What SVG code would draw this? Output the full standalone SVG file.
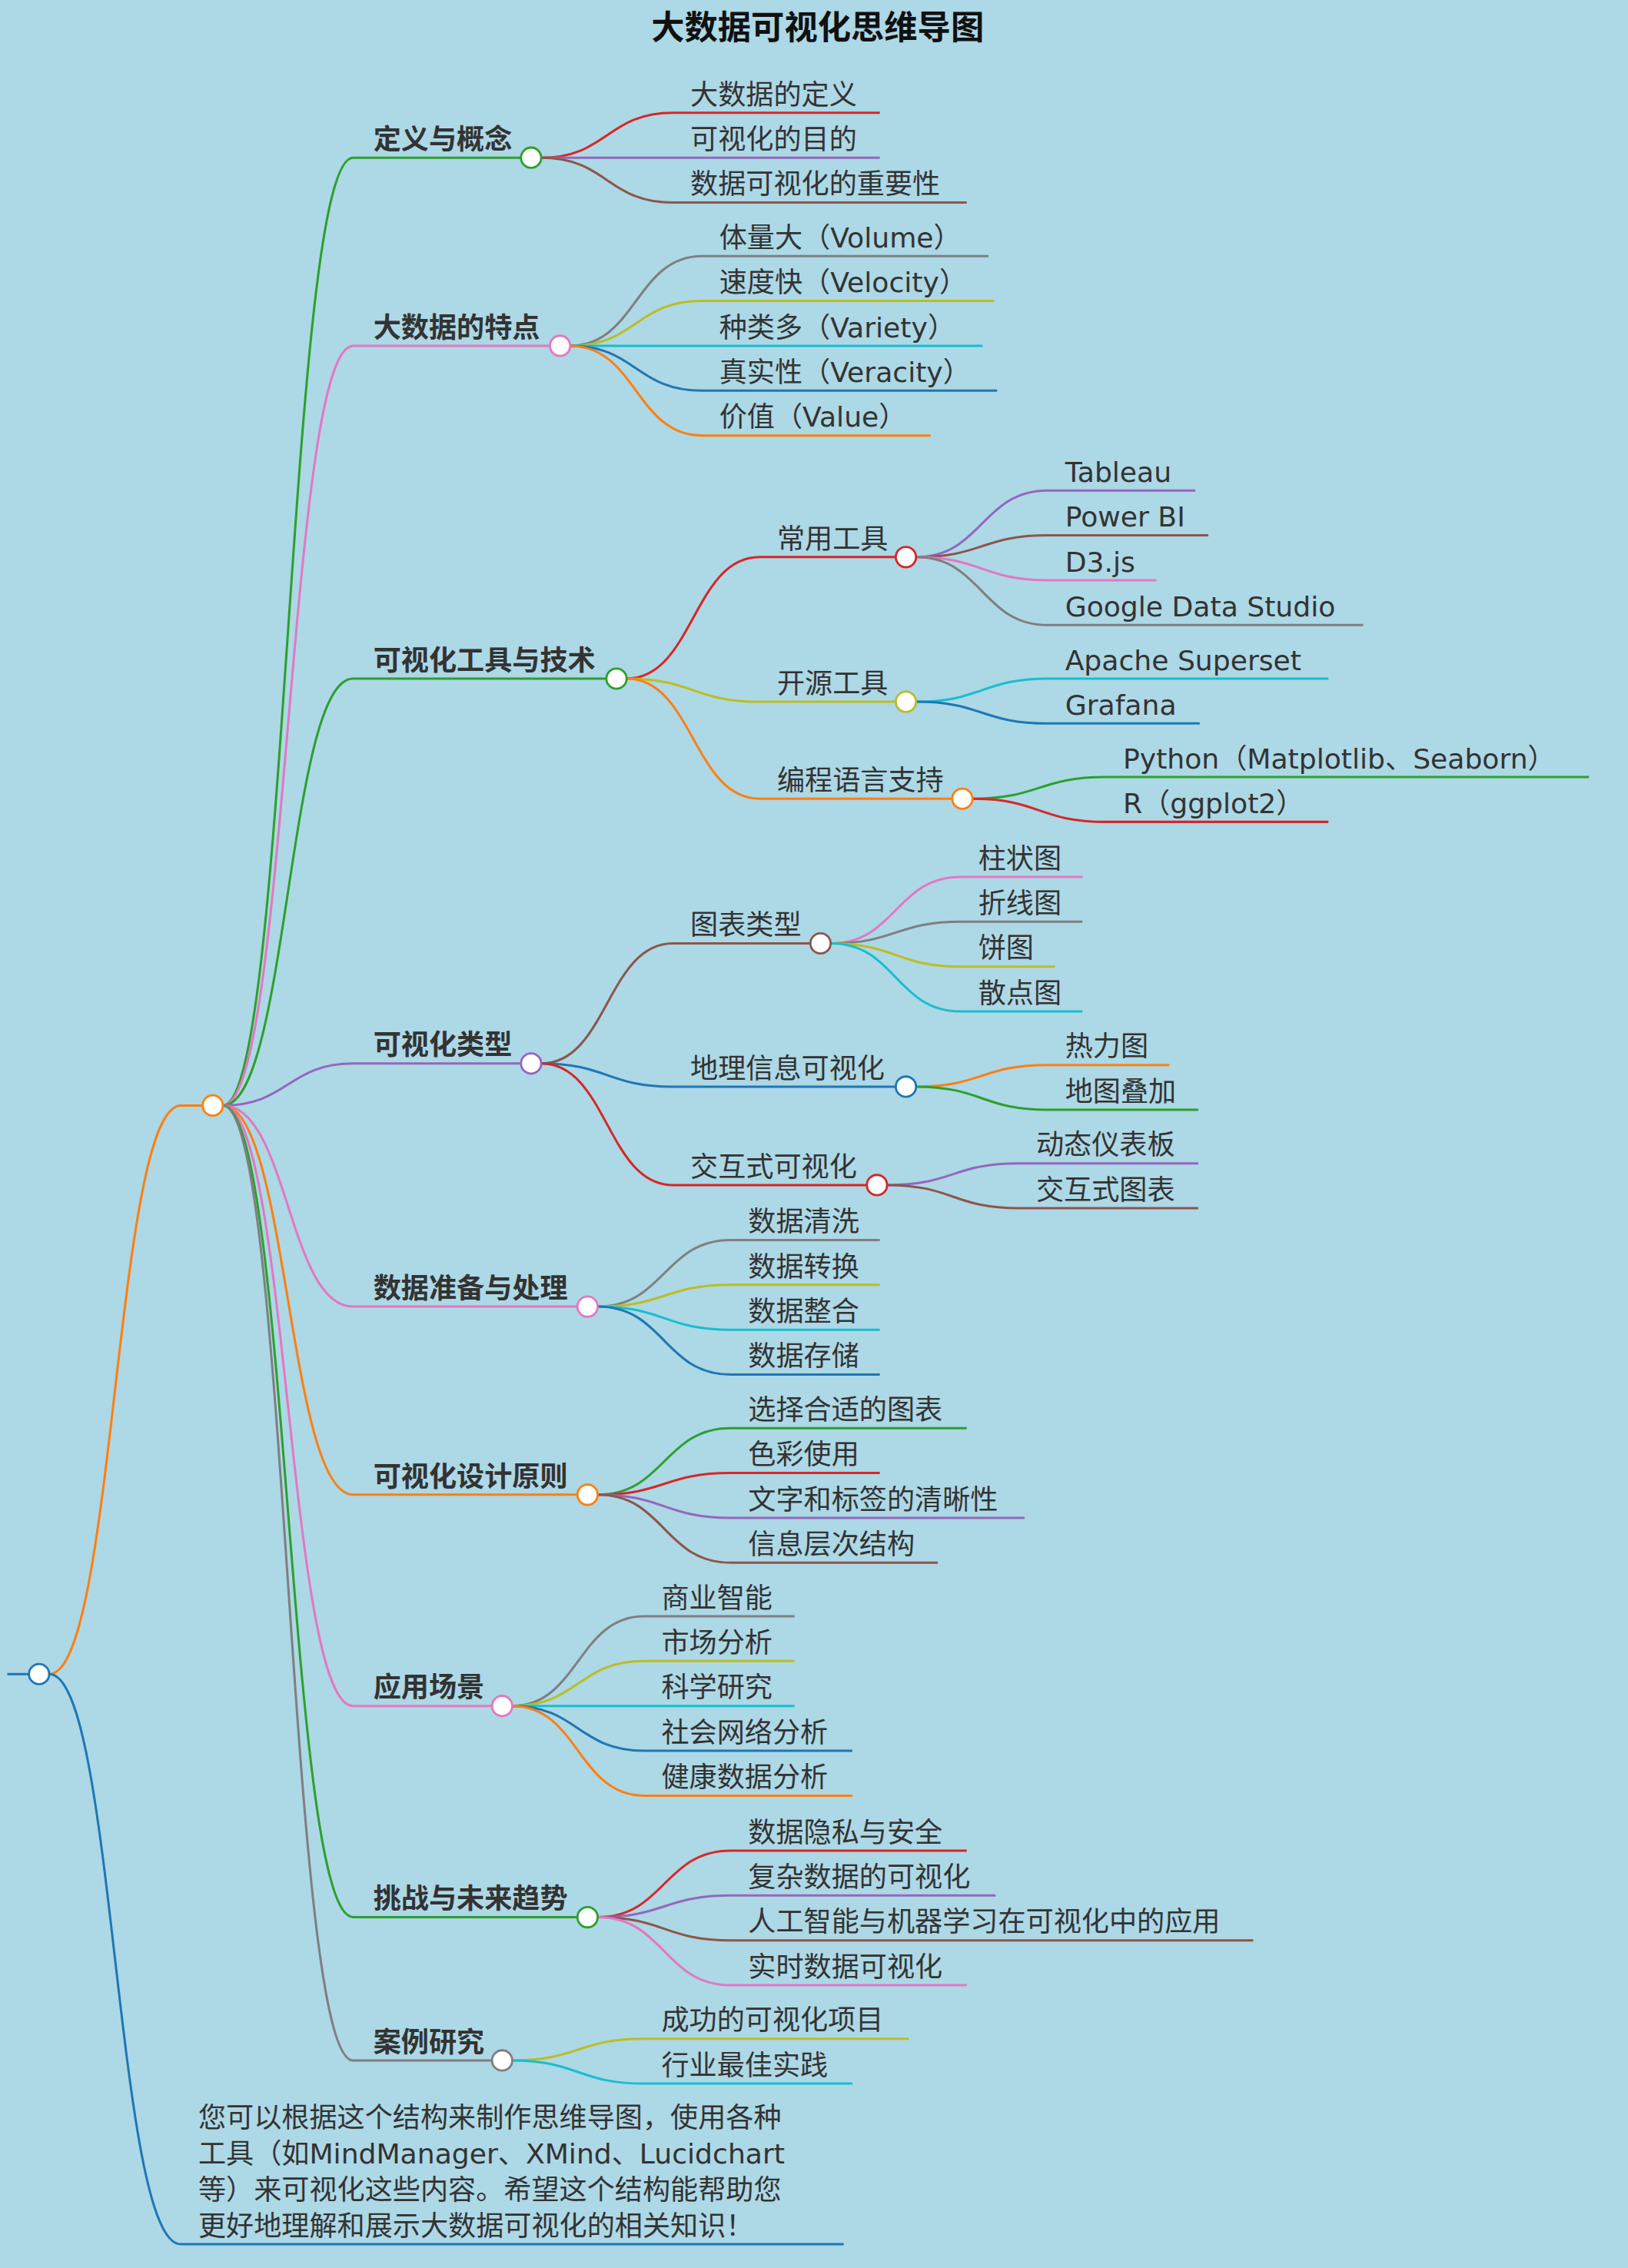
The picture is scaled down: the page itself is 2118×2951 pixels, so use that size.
<svg xmlns="http://www.w3.org/2000/svg" width="2118" height="2951" viewBox="0 0 2118 2951">
<style>
text{font-family:"DejaVu Sans","Noto Sans CJK SC",sans-serif;font-size:19.2px;fill:#333}
.b{font-weight:bold}
.t{font-weight:bold;font-size:23px;fill:#111}
path{fill:none;stroke-width:1.6}
circle{fill:#fff;stroke-width:1.5}
.g{stroke:#2ca02c}.p{stroke:#e377c2}.u{stroke:#9467bd}.o{stroke:#ff7f0e}.r{stroke:#d62728}.n{stroke:#8c564b}.y{stroke:#7f7f7f}.v{stroke:#bcbd22}.c{stroke:#17becf}.l{stroke:#1f77b4}
</style>
<rect width="2118" height="2951" fill="#add8e6"/>
<g transform="scale(1.8827)">
<text class="t" x="565" y="27" text-anchor="middle">大数据可视化思维导图</text>
<g id="connectors">
<path class="l" d="M5 1157 H20"/>
<path class="o" d="M34 1157 C79.5 1157 79.5 764 125 764 H141"/>
<path class="l" d="M34 1157 C79.5 1157 79.5 1551 125 1551 H583"/>
<path class="g" d="M154 764 C199 764 199 109 244 109 H360"/>
<path class="p" d="M154 764 C199 764 199 239 244 239 H380"/>
<path class="g" d="M154 764 C199 764 199 469 244 469 H419"/>
<path class="u" d="M154 764 C199 764 199 735 244 735 H360"/>
<path class="p" d="M154 764 C199 764 199 903 244 903 H399"/>
<path class="o" d="M154 764 C199 764 199 1033 244 1033 H399"/>
<path class="p" d="M154 764 C199 764 199 1179 244 1179 H340"/>
<path class="g" d="M154 764 C199 764 199 1325 244 1325 H399"/>
<path class="y" d="M154 764 C199 764 199 1424 244 1424 H340"/>
<path class="r" d="M374 109 C419.5 109 419.5 78 465 78 H608"/>
<path class="u" d="M374 109 C419.5 109 419.5 109 465 109 H608"/>
<path class="n" d="M374 109 C419.5 109 419.5 140 465 140 H668"/>
<path class="y" d="M394 239 C439.5 239 439.5 177 485 177 H683"/>
<path class="v" d="M394 239 C439.5 239 439.5 208 485 208 H687"/>
<path class="c" d="M394 239 C439.5 239 439.5 239 485 239 H679"/>
<path class="l" d="M394 239 C439.5 239 439.5 270 485 270 H689"/>
<path class="o" d="M394 239 C439.5 239 439.5 301 485 301 H643"/>
<path class="r" d="M433 469 C479 469 479 385 525 385 H619"/>
<path class="v" d="M433 469 C479 469 479 485 525 485 H619"/>
<path class="o" d="M433 469 C479 469 479 552 525 552 H658"/>
<path class="u" d="M633 385 C678.5 385 678.5 339 724 339 H826"/>
<path class="n" d="M633 385 C678.5 385 678.5 370 724 370 H835"/>
<path class="p" d="M633 385 C678.5 385 678.5 401 724 401 H799"/>
<path class="y" d="M633 385 C678.5 385 678.5 432 724 432 H942"/>
<path class="c" d="M633 485 C678.5 485 678.5 469 724 469 H918"/>
<path class="l" d="M633 485 C678.5 485 678.5 500 724 500 H829"/>
<path class="g" d="M672 552 C718 552 718 537 764 537 H1098"/>
<path class="r" d="M672 552 C718 552 718 568 764 568 H918"/>
<path class="n" d="M374 735 C419.5 735 419.5 652 465 652 H560"/>
<path class="l" d="M374 735 C419.5 735 419.5 751 465 751 H619"/>
<path class="r" d="M374 735 C419.5 735 419.5 819 465 819 H599"/>
<path class="p" d="M574 652 C619 652 619 606 664 606 H748"/>
<path class="y" d="M574 652 C619 652 619 637 664 637 H748"/>
<path class="v" d="M574 652 C619 652 619 668 664 668 H729"/>
<path class="c" d="M574 652 C619 652 619 699 664 699 H748"/>
<path class="o" d="M633 751 C678.5 751 678.5 736 724 736 H808"/>
<path class="g" d="M633 751 C678.5 751 678.5 767 724 767 H828"/>
<path class="u" d="M613 819 C658.5 819 658.5 804 704 804 H828"/>
<path class="n" d="M613 819 C658.5 819 658.5 835 704 835 H828"/>
<path class="y" d="M413 903 C459 903 459 857 505 857 H608"/>
<path class="v" d="M413 903 C459 903 459 888 505 888 H608"/>
<path class="c" d="M413 903 C459 903 459 919 505 919 H608"/>
<path class="l" d="M413 903 C459 903 459 950 505 950 H608"/>
<path class="g" d="M413 1033 C459 1033 459 987 505 987 H668"/>
<path class="r" d="M413 1033 C459 1033 459 1018 505 1018 H608"/>
<path class="u" d="M413 1033 C459 1033 459 1049 505 1049 H708"/>
<path class="n" d="M413 1033 C459 1033 459 1080 505 1080 H648"/>
<path class="y" d="M354 1179 C399.5 1179 399.5 1117 445 1117 H549"/>
<path class="v" d="M354 1179 C399.5 1179 399.5 1148 445 1148 H549"/>
<path class="c" d="M354 1179 C399.5 1179 399.5 1179 445 1179 H549"/>
<path class="l" d="M354 1179 C399.5 1179 399.5 1210 445 1210 H589"/>
<path class="o" d="M354 1179 C399.5 1179 399.5 1241 445 1241 H589"/>
<path class="r" d="M413 1325 C459 1325 459 1279 505 1279 H668"/>
<path class="u" d="M413 1325 C459 1325 459 1310 505 1310 H688"/>
<path class="n" d="M413 1325 C459 1325 459 1341 505 1341 H866"/>
<path class="p" d="M413 1325 C459 1325 459 1372 505 1372 H668"/>
<path class="v" d="M354 1424 C399.5 1424 399.5 1409 445 1409 H628"/>
<path class="c" d="M354 1424 C399.5 1424 399.5 1440 445 1440 H589"/>
</g>
<g id="root"><circle class="l" cx="27" cy="1157" r="7"/></g>
<g id="center"><circle class="o" cx="147" cy="764" r="7"/></g>
<g id="n1"><text class="b" x="258" y="103">定义与概念</text><circle class="g" cx="367" cy="109" r="7"/></g>
<g id="n2"><text class="b" x="258" y="233">大数据的特点</text><circle class="p" cx="387" cy="239" r="7"/></g>
<g id="n3"><text class="b" x="258" y="463">可视化工具与技术</text><circle class="g" cx="426" cy="469" r="7"/></g>
<g id="n4"><text class="b" x="258" y="729">可视化类型</text><circle class="u" cx="367" cy="735" r="7"/></g>
<g id="n5"><text class="b" x="258" y="897">数据准备与处理</text><circle class="p" cx="406" cy="903" r="7"/></g>
<g id="n6"><text class="b" x="258" y="1027">可视化设计原则</text><circle class="o" cx="406" cy="1033" r="7"/></g>
<g id="n7"><text class="b" x="258" y="1173">应用场景</text><circle class="p" cx="347" cy="1179" r="7"/></g>
<g id="n8"><text class="b" x="258" y="1319">挑战与未来趋势</text><circle class="g" cx="406" cy="1325" r="7"/></g>
<g id="n9"><text class="b" x="258" y="1418">案例研究</text><circle class="y" cx="347" cy="1424" r="7"/></g>
<g id="n1c"><text x="477" y="72">大数据的定义</text><text x="477" y="103">可视化的目的</text><text x="477" y="134">数据可视化的重要性</text></g>
<g id="n2c"><text x="497" y="171">体量大（Volume）</text><text x="497" y="202">速度快（Velocity）</text><text x="497" y="233">种类多（Variety）</text><text x="497" y="264">真实性（Veracity）</text><text x="497" y="295">价值（Value）</text></g>
<g id="n3a"><text x="537" y="379">常用工具</text><circle class="r" cx="626" cy="385" r="7"/></g>
<g id="n3b"><text x="537" y="479">开源工具</text><circle class="v" cx="626" cy="485" r="7"/></g>
<g id="n3c"><text x="537" y="546">编程语言支持</text><circle class="o" cx="665" cy="552" r="7"/></g>
<g id="n3ac"><text x="736" y="333">Tableau</text><text x="736" y="364">Power BI</text><text x="736" y="395">D3.js</text><text x="736" y="426">Google Data Studio</text></g>
<g id="n3bc"><text x="736" y="463">Apache Superset</text><text x="736" y="494">Grafana</text></g>
<g id="n3cc"><text x="776" y="531">Python（Matplotlib、Seaborn）</text><text x="776" y="562">R（ggplot2）</text></g>
<g id="n4a"><text x="477" y="646">图表类型</text><circle class="n" cx="567" cy="652" r="7"/></g>
<g id="n4b"><text x="477" y="745">地理信息可视化</text><circle class="l" cx="626" cy="751" r="7"/></g>
<g id="n4c"><text x="477" y="813">交互式可视化</text><circle class="r" cx="606" cy="819" r="7"/></g>
<g id="n4ac"><text x="676" y="600">柱状图</text><text x="676" y="631">折线图</text><text x="676" y="662">饼图</text><text x="676" y="693">散点图</text></g>
<g id="n4bc"><text x="736" y="730">热力图</text><text x="736" y="761">地图叠加</text></g>
<g id="n4cc"><text x="716" y="798">动态仪表板</text><text x="716" y="829">交互式图表</text></g>
<g id="n5c"><text x="517" y="851">数据清洗</text><text x="517" y="882">数据转换</text><text x="517" y="913">数据整合</text><text x="517" y="944">数据存储</text></g>
<g id="n6c"><text x="517" y="981">选择合适的图表</text><text x="517" y="1012">色彩使用</text><text x="517" y="1043">文字和标签的清晰性</text><text x="517" y="1074">信息层次结构</text></g>
<g id="n7c"><text x="457" y="1111">商业智能</text><text x="457" y="1142">市场分析</text><text x="457" y="1173">科学研究</text><text x="457" y="1204">社会网络分析</text><text x="457" y="1235">健康数据分析</text></g>
<g id="n8c"><text x="517" y="1273">数据隐私与安全</text><text x="517" y="1304">复杂数据的可视化</text><text x="517" y="1335">人工智能与机器学习在可视化中的应用</text><text x="517" y="1366">实时数据可视化</text></g>
<g id="n9c"><text x="457" y="1403">成功的可视化项目</text><text x="457" y="1434">行业最佳实践</text></g>
<g id="note"><text x="137" y="1470">您可以根据这个结构来制作思维导图，使用各种</text><text x="137" y="1495">工具（如MindManager、XMind、Lucidchart</text><text x="137" y="1520">等）来可视化这些内容。希望这个结构能帮助您</text><text x="137" y="1545">更好地理解和展示大数据可视化的相关知识！</text></g>
</g>
</svg>
